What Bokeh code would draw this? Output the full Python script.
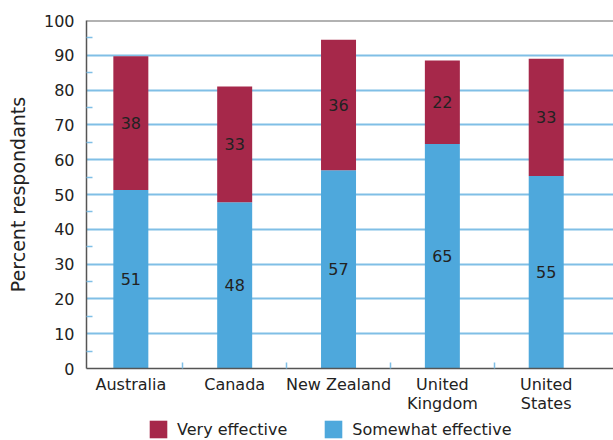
from bokeh.plotting import figure
from bokeh.layouts import column
from bokeh.models import (Range1d, FixedTicker, ColumnDataSource, Legend, LegendItem,
                          LabelSet, Span)
from bokeh.core.properties import value
from bokeh.embed import file_html
from bokeh.resources import INLINE

countries = ["Australia", "Canada", "New Zealand", "United\nKingdom", "United\nStates"]
somewhat = [51.3, 47.8, 57.0, 64.5, 55.3]
very = [38.4, 33.2, 37.5, 24.0, 33.7]
somewhat_labels = ["51", "48", "57", "65", "55"]
very_labels = ["38", "33", "36", "22", "33"]
series_names = ["Very effective", "Somewhat effective"]
y_ticks = list(range(0, 101, 10))
y_minor = list(range(5, 100, 10))

RED = "#a6284a"
BLUE = "#4ea8dc"
GRID = "#80bfe6"
AXIS = "#555555"
FONT = "DejaVu Sans"

xs = [i + 0.5 for i in range(len(countries))]
bounds = [i for i in range(1, len(countries))]

src = ColumnDataSource(dict(
    x=xs, somewhat=somewhat, very=very,
    sl=somewhat_labels, vl=very_labels,
    sy=[s / 2 for s in somewhat],
    vy=[s + v / 2 for s, v in zip(somewhat, very)],
))

p = figure(frame_width=527, frame_height=348, output_backend="svg", toolbar_location=None,
           x_range=Range1d(0.073, 5.148), y_range=Range1d(0, 100),
           min_border_left=86, min_border_right=0, min_border_top=20, min_border_bottom=0)
p.outline_line_color = None
p.background_fill_color = "white"
p.border_fill_color = "white"

rs = p.vbar_stack(["somewhat", "very"], x="x", width=0.337, color=[BLUE, RED],
                  line_color=None, source=src)

for ycol, tcol in (("sy", "sl"), ("vy", "vl")):
    p.add_layout(LabelSet(x="x", y=ycol, text=tcol, source=src, text_align="center",
                          text_baseline="middle", text_font=value(FONT),
                          text_font_size=value("16px"), text_color="#222222"))

p.add_layout(Span(location=100, dimension="width", line_color="#666666", line_width=2))

# y axis
p.yaxis.ticker = FixedTicker(ticks=y_ticks, minor_ticks=y_minor)
p.yaxis.axis_line_color = AXIS
p.yaxis.axis_line_width = 1.5
p.yaxis.major_tick_line_color = None
p.yaxis.minor_tick_line_color = GRID
p.yaxis.minor_tick_line_width = 1.5
p.yaxis.minor_tick_in = 6
p.yaxis.minor_tick_out = 0
p.yaxis.major_label_text_font = FONT
p.yaxis.major_label_text_font_size = "16px"
p.yaxis.major_label_text_color = "#222222"
p.yaxis.major_label_standoff = 6
p.yaxis.axis_label = "Percent respondants"
p.yaxis.axis_label_text_font = FONT
p.yaxis.axis_label_text_font_size = "19px"
p.yaxis.axis_label_text_font_style = "normal"
p.yaxis.axis_label_text_color = "#222222"
p.yaxis.axis_label_standoff = 12

p.ygrid.ticker = FixedTicker(ticks=y_ticks[1:-1])
p.ygrid.grid_line_color = GRID
p.ygrid.grid_line_width = 2
p.xgrid.grid_line_color = None

# x axis
p.xaxis.ticker = FixedTicker(ticks=xs, minor_ticks=bounds)
p.xaxis.major_label_overrides = {x: c for x, c in zip(xs, countries)}
p.xaxis.axis_line_color = AXIS
p.xaxis.axis_line_width = 1.5
p.xaxis.major_tick_line_color = None
p.xaxis.minor_tick_line_color = GRID
p.xaxis.minor_tick_line_width = 1.5
p.xaxis.minor_tick_in = 6
p.xaxis.minor_tick_out = 0
p.xaxis.major_label_text_font = FONT
p.xaxis.major_label_text_font_size = "16px"
p.xaxis.major_label_text_line_height = 1.05
p.xaxis.major_label_text_color = "#222222"
p.xaxis.major_label_standoff = 0

# legend strip below the chart (zero-height proxy bars supply the legend swatches)
lf = figure(frame_width=527, frame_height=22, output_backend="svg", toolbar_location=None,
            x_range=Range1d(0, 1), y_range=Range1d(0, 1),
            x_axis_location=None, y_axis_location=None,
            min_border_left=86, min_border_right=0, min_border_top=2, min_border_bottom=0)
lf.outline_line_color = None
lf.xgrid.grid_line_color = None
lf.ygrid.grid_line_color = None
lr_very = lf.vbar(x="x", top=0, bottom=0, width=0.01, source=src,
                  fill_color=RED, line_color=None)
lr_some = lf.vbar(x="x", top=0, bottom=0, width=0.01, source=src,
                  fill_color=BLUE, line_color=None)

legend = Legend(items=[LegendItem(label=series_names[0], renderers=[lr_very]),
                       LegendItem(label=series_names[1], renderers=[lr_some])],
                orientation="horizontal", location=(61, 0),
                glyph_width=22, glyph_height=22, label_standoff=8, spacing=35,
                padding=0, margin=0, border_line_color=None,
                label_text_font=FONT, label_text_font_size="16px",
                label_text_color="#222222", background_fill_alpha=0)
lf.add_layout(legend, "center")

layout = column(p, lf, spacing=0)
open("out.html", "w").write(file_html(layout, INLINE))
